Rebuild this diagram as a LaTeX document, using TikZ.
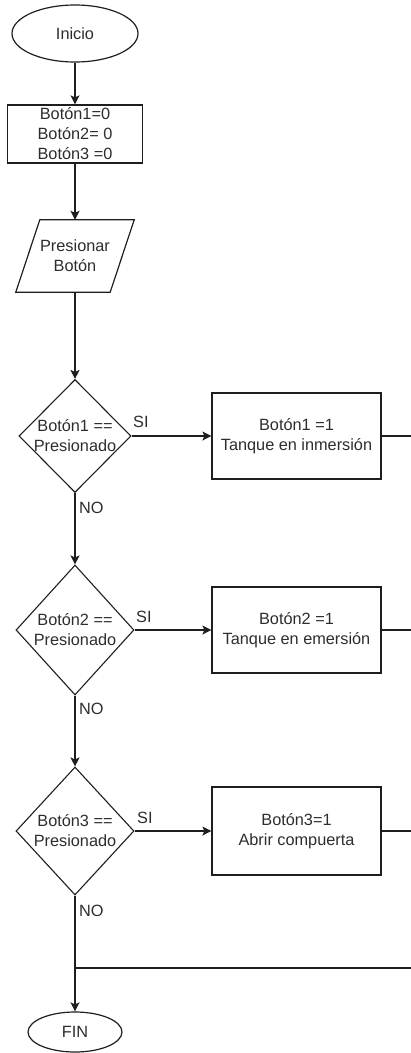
\documentclass[tikz,border=0pt]{standalone}
\usepackage{fontspec}
\setmainfont{Liberation Sans}
\usetikzlibrary{shapes.geometric,arrows.meta}
\definecolor{ink}{RGB}{30,30,30}
\definecolor{txtc}{RGB}{45,45,45}
\begin{document}
\begin{tikzpicture}[x=1pt,y=-1pt,
  every node/.style={font=\fontsize{16.3}{20}\selectfont, text=txtc, align=center},
  line/.style={draw=ink, line width=1.3pt},
  flow/.style={line, -{Stealth[length=9pt,width=9pt,inset=2pt]}},
  term/.style={ellipse, draw=ink, line width=1.2pt, inner sep=0pt},
  procbox/.style={rectangle, draw=ink, line width=1.2pt, inner sep=0pt},
  dec/.style={diamond, draw=ink, line width=1.1pt, inner sep=0pt, aspect=1},
  lbl/.style={anchor=base west, inner sep=0pt}
]
\useasboundingbox (0,0) rectangle (410,1053);

% start and initialisation
\node[term, minimum width=126pt, minimum height=57pt] (inicio) at (75,33.5) {Inicio};
\node[procbox, minimum width=135pt, minimum height=58pt] (init) at (75,134)
  {Botón1=0\\Botón2= 0\\Botón3 =0};

% input (parallelogram)
\node[minimum width=118pt, minimum height=72pt, inner sep=0pt] (pres) at (75,256)
  {Presionar\\Botón};
\draw[line, line width=1.2pt] ([xshift=24pt]pres.north west) -- (pres.north east)
  -- ([xshift=-24pt]pres.south east) -- (pres.south west) -- cycle;

% decisions
\node[dec, minimum width=112pt, minimum height=113pt] (d1) at (75,436) {};
\node at (d1) {Botón1 ==\\Presionado};
\node[dec, minimum width=118pt, minimum height=130pt] (d2) at (75,630) {};
\node at (d2) {Botón2 ==\\Presionado};
\node[dec, minimum width=118pt, minimum height=128pt] (d3) at (75,831) {};
\node at (d3) {Botón3 ==\\Presionado};

% actions
\node[procbox, minimum width=169pt, minimum height=86pt] (b1) at (296.5,436)
  {Botón1 =1\\Tanque en inmersión};
\node[procbox, minimum width=169pt, minimum height=86pt] (b2) at (296.5,630)
  {Botón2 =1\\Tanque en emersión};
\node[procbox, minimum width=169pt, minimum height=88pt] (b3) at (296.5,831)
  {Botón3=1\\Abrir compuerta};

% end
\node[term, minimum width=94pt, minimum height=40pt] (fin) at (75,1032) {FIN};

% connector end points
\coordinate (r1) at (411,436);
\coordinate (r2) at (411,630);
\coordinate (r3) at (411,831);
\coordinate (rm) at (411,968);
\coordinate (m) at (75,968);

% main flow
\draw[flow] (inicio) -- (init);
\draw[flow] (init) -- (pres);
\draw[flow] (pres.south) -- (d1.north);
\draw[flow] (d1.south) -- (d2.north);
\draw[flow] (d2.south) -- (d3.north);
\draw[flow] (d3.south) -- (fin.north);

% branches
\draw[flow] (d1.east) -- (b1.west);
\draw[flow] (d2.east) -- (b2.west);
\draw[flow] (d3.east) -- (b3.west);
\draw[line] (b1.east) -- (r1);
\draw[line] (b2.east) -- (r2);
\draw[line] (b3.east) -- (r3);
\draw[line] (rm) -- (m);

% branch labels
\node[lbl] (si1) at (133,427) {SI};
\node[lbl] (si2) at (136,622) {SI};
\node[lbl] (si3) at (137,823) {SI};
\node[lbl] (no1) at (79,513) {NO};
\node[lbl] (no2) at (79,714) {NO};
\node[lbl] (no3) at (79,916) {NO};
\end{tikzpicture}
\end{document}
